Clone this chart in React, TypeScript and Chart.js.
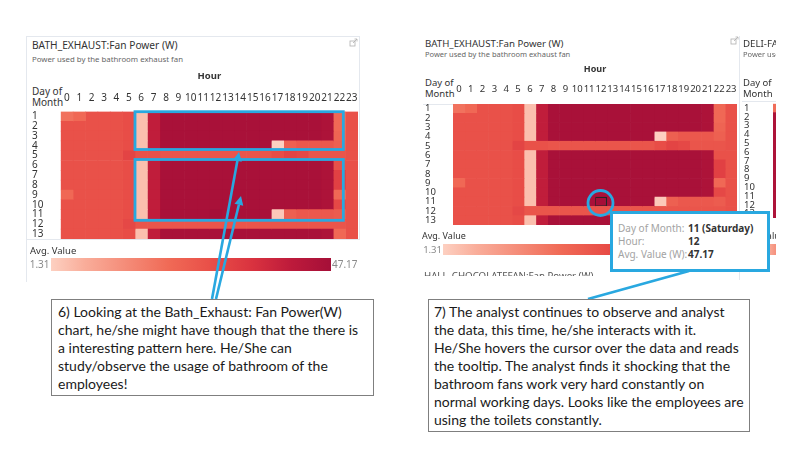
import React, { useEffect, useRef } from "react";
import { Chart, registerables } from "chart.js";

Chart.register(...registerables);

// ---------------- data ----------------
const HOURS = ["0", "1", "2", "3", "4", "5", "6", "7", "8", "9", "10", "11", "12", "13", "14", "15", "16", "17", "18", "19", "20", "21", "22", "23"];
const DAYS = ["1", "2", "3", "4", "5", "6", "7", "8", "9", "10", "11", "12", "13"];
const WEEKDAYS = ["Wednesday", "Thursday", "Friday", "Saturday", "Sunday", "Monday", "Tuesday", "Wednesday", "Thursday", "Friday", "Saturday", "Sunday", "Monday"];

// BATH_EXHAUST fan power (W), average per day-of-month x hour
const DAY_01 = [19, 21, 27, 27, 27, 28, 4, 40, 46, 46, 46, 46, 46, 46, 46, 46, 46, 46, 46, 46, 46, 45, 21, 27];
const DAY_02 = [27, 27, 27, 27, 27, 28, 4, 40, 46, 46, 46, 46, 46, 46, 46, 46, 46, 46, 46, 46, 46, 45, 21, 27];
const DAY_03 = [27, 27, 27, 27, 27, 28, 4, 40, 46, 46, 46, 46, 46, 46, 46, 46, 46, 46, 46, 46, 46, 45, 22, 27];
const DAY_04 = [27, 27, 27, 27, 27, 28, 4, 40, 46, 46, 46, 46, 46, 46, 46, 46, 46, 1.31, 23, 25, 25, 25, 23, 27];
const DAY_05 = [27, 27, 27, 27, 27, 30, 27, 27, 26, 26, 26, 26, 26, 26, 26, 26, 26, 28, 30, 29, 26, 26, 26, 27];
const DAY_06 = [27, 27, 27, 27, 27, 28, 4, 40, 46, 46, 46, 46, 46, 46, 46, 46, 46, 46, 46, 46, 46, 45, 27, 27];
const DAY_07 = [27, 27, 27, 27, 27, 28, 4, 40, 46, 46, 46, 46, 46, 46, 46, 46, 46, 46, 46, 46, 46, 45, 31, 27];
const DAY_08 = [27, 27, 27, 27, 27, 28, 4, 40, 46, 46, 46, 46, 46, 46, 46, 46, 46, 46, 46, 46, 46, 45, 31, 27];
const DAY_09 = [21, 27, 27, 27, 27, 28, 4, 40, 46, 46, 46, 46, 46, 46, 46, 46, 46, 46, 46, 46, 46, 45, 21, 27];
const DAY_10 = [27, 27, 27, 27, 27, 28, 4, 40, 46, 46, 46, 46, 46, 46, 46, 46, 46, 46, 46, 46, 46, 45, 29, 27];
const DAY_11 = [27, 27, 27, 27, 27, 28, 4, 40, 46, 46, 46, 46, 47.17, 46, 46, 46, 46, 2.5, 23, 25, 25, 25, 24, 27];
const DAY_12 = [27, 27, 27, 27, 27, 29, 26, 26, 26, 26, 26, 26, 26, 26, 26, 26, 26, 26, 26, 26, 26, 26, 26, 27];
const DAY_13 = [27, 27, 27, 27, 27, 28, 4, 40, 46, 46, 46, 46, 46, 46, 46, 46, 46, 46, 46, 46, 46, 45, 21, 27];
const BATH_VALUES = [DAY_01, DAY_02, DAY_03, DAY_04, DAY_05, DAY_06, DAY_07, DAY_08, DAY_09, DAY_10, DAY_11, DAY_12, DAY_13];

// DELI-FAN (cropped panel, only hour 0 visible)
const DELI_HOURS = ["0"];
const DELI_HOUR0 = [20, 45, 45, 45, 45, 45, 45, 45, 45, 45, 45, 45, 45];

const LEGEND_MIN = 1.31;
const LEGEND_MAX = 47.17;

// tooltip target
const TIP_DAY_INDEX = 10;
const TIP_HOUR_INDEX = 12;

// ---------------- styles ----------------
const FONT = "'Noto Sans', 'DejaVu Sans', sans-serif";
const CALLOUT_FONT = "Lato, 'Noto Sans', sans-serif";
const BLUE = "#29a8e0";
const COLOR_STOPS: [number, string][] = [
  [0, "#fdd0c1"],
  [0.12, "#f9ad9a"],
  [0.42, "#f06a56"],
  [0.58, "#e84d47"],
  [0.72, "#d9323f"],
  [0.86, "#bd1a3b"],
  [1, "#a50f38"],
];

Chart.defaults.font.family = FONT;

function hexToRgb(h: string) {
  const n = parseInt(h.slice(1), 16);
  return [(n >> 16) & 255, (n >> 8) & 255, n & 255];
}
function colorFor(v: number) {
  let t = (v - LEGEND_MIN) / (LEGEND_MAX - LEGEND_MIN);
  t = Math.max(0, Math.min(1, t));
  for (let i = 1; i < COLOR_STOPS.length; i++) {
    const [t1, c1] = COLOR_STOPS[i];
    const [t0, c0] = COLOR_STOPS[i - 1];
    if (t <= t1) {
      const f = (t - t0) / (t1 - t0);
      const a = hexToRgb(c0), b = hexToRgb(c1);
      const m = a.map((x, k) => Math.round(x + (b[k] - x) * f));
      return `rgb(${m[0]},${m[1]},${m[2]})`;
    }
  }
  return COLOR_STOPS[COLOR_STOPS.length - 1][1];
}
const GRADIENT = `linear-gradient(to right, ${COLOR_STOPS.map(([t, c]) => `${c} ${t * 100}%`).join(", ")})`;

type HeatmapProps = {
  values: number[][];
  rows: string[];
  cols: string[];
  span: number;
  labelX: number;
  canvasTop: number;
  gx: number;
  gy: number;
  gw: number;
  gh: number;
  tickFont: number;
  showTicks: boolean;
  tickCenterY?: number;
  axisTitle?: string;
  titleFont?: number;
  titleCenterY?: number;
  highlight?: { row: number; col: number };
};

function Heatmap(p: HeatmapProps) {
  const ref = useRef<HTMLCanvasElement | null>(null);
  const PAD_R = 12;
  const PAD_B = 6;
  const width = Math.round(p.gx + p.gw - p.labelX + PAD_R);
  const height = Math.round(p.gy + p.gh - p.canvasTop + PAD_B);
  useEffect(() => {
    const canvas = ref.current;
    if (!canvas) return;
    const axisH = p.gy - p.canvasTop;
    const yW = p.gx - p.labelX;
    const tickLH = p.tickFont * 1.2;
    const tickPad = p.tickCenterY != null ? p.gy - p.tickCenterY - tickLH / 2 : 0;
    const tFont = p.titleFont ?? 11;
    const titlePad = p.titleCenterY != null ? p.titleCenterY - (tFont * 1.2) / 2 - p.canvasTop : 0;
    const isHl = (r: number, c: number) => !!p.highlight && p.highlight.row === r && p.highlight.col === c;
    const datasets = p.cols.map((c, h) => ({
      label: c,
      data: p.rows.map(() => [h - 0.5, h + 0.5]),
      backgroundColor: p.values.map((r) => colorFor(r[h])),
      borderColor: p.rows.map((_, i) => (isHl(i, h) ? "#262626" : "rgba(0,0,0,0)")),
      borderWidth: p.rows.map((_, i) => (isHl(i, h) ? 1.3 : 0)),
      borderSkipped: false,
      grouped: false,
      barPercentage: 1,
      categoryPercentage: 1,
    }));
    const chart = new Chart(canvas, {
      type: "bar",
      data: { labels: p.rows, datasets: datasets as any },
      options: {
        indexAxis: "y",
        responsive: false,
        maintainAspectRatio: false,
        animation: false,
        events: [],
        layout: { padding: { left: 0, top: 0, right: PAD_R, bottom: PAD_B } },
        plugins: { legend: { display: false }, tooltip: { enabled: false }, title: { display: false } },
        scales: {
          x: {
            type: "linear",
            position: "top",
            min: -0.5,
            max: p.span - 0.5,
            grid: { display: false, drawTicks: false },
            border: { display: false },
            afterBuildTicks: (s: any) => {
              s.ticks = p.cols.map((_, i) => ({ value: i }));
            },
            afterFit: (s: any) => {
              s.height = axisH;
            },
            ticks: {
              display: p.showTicks,
              autoSkip: false,
              maxRotation: 0,
              minRotation: 0,
              padding: tickPad,
              color: "#333",
              font: { size: p.tickFont, family: FONT },
              callback: (v: any) => p.cols[v as number],
            },
            title: {
              display: !!p.axisTitle,
              text: p.axisTitle || "",
              color: "#333",
              font: { size: tFont, family: FONT, weight: "bold" },
              padding: { top: titlePad, bottom: 0 },
            },
          },
          y: {
            type: "category",
            position: "left",
            offset: true,
            grid: { display: false, drawTicks: false },
            border: { display: false },
            afterFit: (s: any) => {
              s.width = yW;
            },
            ticks: {
              autoSkip: false,
              crossAlign: "far",
              padding: 0,
              color: "#333",
              font: { size: p.tickFont, family: FONT },
            },
          },
        },
      } as any,
    });
    return () => chart.destroy();
  }, []);
  return (
    <canvas
      ref={ref}
      width={width}
      height={height}
      style={{ position: "absolute", left: p.labelX, top: p.canvasTop, width, height }}
    />
  );
}

function Txt(props: { x: number; y: number; size: number; color?: string; weight?: number; align?: "left" | "right"; children: any }) {
  const lh = props.size * 1.3;
  const style: any = {
    position: "absolute",
    top: props.y - lh / 2,
    fontSize: props.size,
    lineHeight: lh + "px",
    color: props.color || "#333",
    fontWeight: props.weight || 400,
    whiteSpace: "nowrap",
  };
  if (props.align === "right") style.right = 800 - props.x;
  else style.left = props.x;
  return <div style={style}>{props.children}</div>;
}

function Arrow({ x1, y1, x2, y2 }: { x1: number; y1: number; x2: number; y2: number }) {
  const ang = Math.atan2(y2 - y1, x2 - x1);
  const len = 9;
  const w = 4.5;
  const bx = x2 - len * Math.cos(ang);
  const by = y2 - len * Math.sin(ang);
  const px = -Math.sin(ang) * w;
  const py = Math.cos(ang) * w;
  return (
    <g>
      <line x1={x1} y1={y1} x2={bx} y2={by} stroke={BLUE} strokeWidth={2.6} />
      <polygon points={`${x2},${y2} ${bx + px},${by + py} ${bx - px},${by - py}`} fill={BLUE} />
    </g>
  );
}

function LinkIcon({ x, y }: { x: number; y: number }) {
  return (
    <g stroke="#b0b0b0" strokeWidth={0.8} fill="none">
      <rect x={x} y={y + 2} width={5} height={5} />
      <line x1={x + 3} y1={y + 4} x2={x + 7} y2={y} />
      <polyline points={`${x + 4.5},${y} ${x + 7},${y} ${x + 7},${y + 2.5}`} />
    </g>
  );
}

const LEFT_TEXT = [
  "6) Looking at the Bath_Exhaust: Fan Power(W)",
  "chart, he/she might have though that the there is",
  "a interesting pattern here. He/She can",
  "study/observe the usage of bathroom of the",
  "employees!",
];
const RIGHT_TEXT = [
  "7) The analyst continues to observe and analyst",
  "the data, this time, he/she interacts with it.",
  "He/She hovers the cursor over the data and reads",
  "the tooltip. The analyst finds it shocking that the",
  "bathroom fans work very hard constantly on",
  "normal working days. Looks like the employees are",
  "using the toilets constantly.",
];

export default function App() {
  const hl = { row: TIP_DAY_INDEX, col: TIP_HOUR_INDEX };
  const frame = "#e4e8ee";
  const deliRows = DELI_HOUR0.map((v) => [v]);
  return (
    <div
      style={{
        position: "fixed",
        left: 0,
        top: 0,
        width: 800,
        height: 450,
        background: "#fff",
        overflow: "hidden",
        fontFamily: FONT,
      }}
    >
      {/* ---------- left panel frame ---------- */}
      <div style={{ position: "absolute", left: 26, top: 36, width: 334, height: 204, border: `1px solid ${frame}`, boxSizing: "border-box" }} />
      <div style={{ position: "absolute", left: 26, top: 240, width: 1, height: 42, background: frame }} />

      {/* ---------- left panel ---------- */}
      <Txt x={32} y={46} size={10.2}>BATH_EXHAUST:Fan Power (W)</Txt>
      <Txt x={32} y={59.5} size={7.8} color="#666">Power used by the bathroom exhaust fan</Txt>
      <Txt x={32} y={91} size={10}>Day of</Txt>
      <Txt x={32} y={102} size={10}>Month</Txt>
      <Heatmap
        values={BATH_VALUES}
        rows={DAYS}
        cols={HOURS}
        span={HOURS.length}
        labelX={32}
        canvasTop={66}
        gx={60.7}
        gy={111.5}
        gw={297.6}
        gh={127.8}
        tickFont={10}
        showTicks={true}
        tickCenterY={97.7}
        axisTitle="Hour"
        titleFont={9.5}
        titleCenterY={76}
      />
      <Txt x={30} y={251} size={9.5}>Avg. Value</Txt>
      <div style={{ position: "absolute", left: 51, top: 258, width: 280, height: 12.5, background: GRADIENT }} />
      <Txt x={49.5} y={264.5} size={10} color="#8a8a8a" align="right">{LEGEND_MIN.toFixed(2)}</Txt>
      <Txt x={332} y={264.5} size={10} color="#8a8a8a">{LEGEND_MAX.toFixed(2)}</Txt>

      {/* ---------- right panel ---------- */}
      <div style={{ position: "absolute", left: 423, top: 103.5, width: 30, height: 1, background: frame }} />
      <div style={{ position: "absolute", left: 739, top: 36, width: 1, height: 244, background: frame }} />
      <Txt x={425} y={44} size={9.7}>BATH_EXHAUST:Fan Power (W)</Txt>
      <Txt x={425} y={55} size={7.5} color="#666">Power used by the bathroom exhaust fan</Txt>
      <Txt x={425} y={83} size={9.5}>Day of</Txt>
      <Txt x={425} y={94} size={9.5}>Month</Txt>
      <Heatmap
        values={BATH_VALUES}
        rows={DAYS}
        cols={HOURS}
        span={HOURS.length}
        labelX={425}
        canvasTop={60}
        gx={453}
        gy={104}
        gw={283.9}
        gh={121}
        tickFont={9.5}
        showTicks={true}
        tickCenterY={89}
        axisTitle="Hour"
        titleFont={9}
        titleCenterY={69}
        highlight={hl}
      />
      <Txt x={422} y={236} size={9}>Avg. Value</Txt>
      <div style={{ position: "absolute", left: 443, top: 244, width: 280, height: 11, background: GRADIENT }} />
      <Txt x={442} y={250} size={9.5} color="#8a8a8a" align="right">{LEGEND_MIN.toFixed(2)}</Txt>
      <div style={{ position: "absolute", left: 424, top: 270, width: 200, height: 6, overflow: "hidden" }}>
        <div style={{ position: "absolute", left: 0, top: 0, fontSize: 9.7, lineHeight: "12px", color: "#555", whiteSpace: "nowrap" }}>
          HALL_CHOCOLATEFAN:Fan Power (W)
        </div>
      </div>

      {/* ---------- cropped DELI panel ---------- */}
      <div style={{ position: "absolute", left: 0, top: 0, width: 776, height: 450, overflow: "hidden" }}>
        <div style={{ position: "absolute", left: 742, top: 101, width: 40, height: 1, background: frame }} />
        <Txt x={743} y={44} size={9.7}>DELI-FAN:Fan Power (W)</Txt>
        <Txt x={743} y={55} size={7.5} color="#666">Power used by the deli fan</Txt>
        <Txt x={743} y={83} size={9.5}>Day of</Txt>
        <Txt x={743} y={94} size={9.5}>Month</Txt>
        <Heatmap
          values={deliRows}
          rows={DAYS}
          cols={DELI_HOURS}
          span={HOURS.length}
          labelX={744}
          canvasTop={98}
          gx={773}
          gy={102}
          gw={283.9}
          gh={116.4}
          tickFont={9.5}
          showTicks={false}
        />
        <Txt x={741} y={236} size={9}>Avg. Value</Txt>
        <div style={{ position: "absolute", left: 761, top: 244, width: 60, height: 11, background: GRADIENT }} />
      </div>

      {/* ---------- annotations ---------- */}
      <svg width={800} height={450} style={{ position: "absolute", left: 0, top: 0, pointerEvents: "none" }}>
        <LinkIcon x={350} y={39} />
        <LinkIcon x={731} y={37} />
        <rect x={135} y={111.7} width={208.3} height={37.8} fill="none" stroke={BLUE} strokeWidth={2.8} />
        <rect x={135} y={159.5} width={208.3} height={60.8} fill="none" stroke={BLUE} strokeWidth={2.8} />
        <Arrow x1={212} y1={299} x2={239} y2={152} />
        <Arrow x1={216} y1={299} x2={241} y2={196} />
        <circle cx={600.5} cy={203} r={12.5} fill="none" stroke={BLUE} strokeWidth={2.8} />
        <line x1={689} y1={271} x2={588} y2={299} stroke={BLUE} strokeWidth={2.8} />
      </svg>

      {/* ---------- tooltip ---------- */}
      <div
        style={{
          position: "absolute",
          left: 610,
          top: 211,
          width: 160,
          height: 61,
          border: `3px solid ${BLUE}`,
          boxSizing: "border-box",
          background: "#fff",
        }}
      />
      <Txt x={618} y={228} size={10} color="#a3a3a3">Day of Month:</Txt>
      <Txt x={618} y={241} size={10} color="#a3a3a3">Hour:</Txt>
      <Txt x={618} y={254} size={10} color="#a3a3a3">Avg. Value (W):</Txt>
      <Txt x={688} y={228} size={10} color="#333" weight={700}>{`${DAYS[TIP_DAY_INDEX]} (${WEEKDAYS[TIP_DAY_INDEX]})`}</Txt>
      <Txt x={688} y={241} size={10} color="#333" weight={700}>{HOURS[TIP_HOUR_INDEX]}</Txt>
      <Txt x={688} y={254} size={10} color="#333" weight={700}>{BATH_VALUES[TIP_DAY_INDEX][TIP_HOUR_INDEX].toFixed(2)}</Txt>

      {/* ---------- callout boxes ---------- */}
      <div style={{ position: "absolute", left: 51, top: 299, width: 323, height: 97, border: "1.5px solid #7f7f7f", boxSizing: "border-box", background: "#fff" }} />
      <div style={{ position: "absolute", left: 58, top: 302.7, fontFamily: CALLOUT_FONT, fontSize: 14, lineHeight: "18px", color: "#1a1a1a", whiteSpace: "pre" }}>
        {LEFT_TEXT.join("\n")}
      </div>
      <div style={{ position: "absolute", left: 428, top: 299, width: 322, height: 133, border: "1.5px solid #7f7f7f", boxSizing: "border-box", background: "#fff" }} />
      <div style={{ position: "absolute", left: 434, top: 302.7, fontFamily: CALLOUT_FONT, fontSize: 14, lineHeight: "18px", color: "#1a1a1a", whiteSpace: "pre" }}>
        {RIGHT_TEXT.join("\n")}
      </div>
    </div>
  );
}
